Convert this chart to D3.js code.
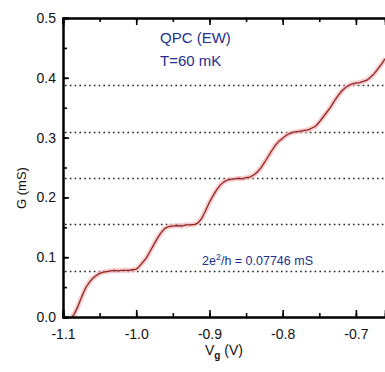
<!DOCTYPE html>
<html>
<head>
<meta charset="utf-8">
<script src="https://cdn.jsdelivr.net/npm/d3@7"></script>
<style>
  body { margin: 0; background: #fff; }
  svg { display: block; }
</style>
</head>
<body>
<div id="chart"></div>
<script>
// gate voltage (V) and conductance (mS)
const vg = [-1.088, -1.085, -1.081, -1.077, -1.073, -1.069, -1.064, -1.06, -1.055, -1.05,
  -1.045, -1.04, -1.035, -1.03, -1.025, -1.02, -1.015, -1.01, -1.005, -1.0,
  -0.997, -0.992, -0.986, -0.981, -0.976, -0.971, -0.966, -0.961, -0.956, -0.95,
  -0.944, -0.938, -0.932, -0.926, -0.92, -0.916, -0.911, -0.906, -0.9, -0.895,
  -0.89, -0.885, -0.88, -0.876, -0.871, -0.865, -0.86, -0.855, -0.85, -0.845,
  -0.84, -0.835, -0.83, -0.825, -0.82, -0.815, -0.81, -0.805, -0.8, -0.795,
  -0.79, -0.785, -0.78, -0.775, -0.77, -0.765, -0.76, -0.755, -0.75, -0.745,
  -0.74, -0.735, -0.73, -0.725, -0.72, -0.715, -0.71, -0.705, -0.7, -0.695,
  -0.69, -0.685, -0.68, -0.675, -0.67, -0.665, -0.66];
const g = [0.0, 0.004, 0.014, 0.026, 0.038, 0.049, 0.058, 0.064, 0.069, 0.073,
  0.075, 0.076, 0.077, 0.078, 0.077, 0.078, 0.078, 0.078, 0.079, 0.080,
  0.083, 0.090, 0.099, 0.110, 0.121, 0.132, 0.141, 0.148, 0.151, 0.152,
  0.153, 0.152, 0.154, 0.154, 0.155, 0.157, 0.164, 0.176, 0.192, 0.203,
  0.213, 0.221, 0.226, 0.229, 0.230, 0.231, 0.232, 0.231, 0.233, 0.234,
  0.237, 0.242, 0.249, 0.258, 0.268, 0.278, 0.287, 0.294, 0.299, 0.304,
  0.307, 0.309, 0.310, 0.311, 0.312, 0.313, 0.316, 0.319, 0.326, 0.334,
  0.342, 0.350, 0.360, 0.369, 0.377, 0.383, 0.387, 0.390, 0.391, 0.392,
  0.394, 0.396, 0.401, 0.407, 0.415, 0.423, 0.432];

const quantum = 0.07746;
const plateaus = [1, 2, 3, 4, 5];
const xTicks = [-1.1, -1.0, -0.9, -0.8, -0.7];
const yTicks = [0.0, 0.1, 0.2, 0.3, 0.4, 0.5];

const width = 385;
const height = 372;
const plotLeft = 63, plotTop = 18, plotBottom = 317;

const svg = d3.select("#chart").append("svg")
  .attr("width", width)
  .attr("height", height);

const x = d3.scaleLinear().domain([-1.1, -0.66]).range([plotLeft, 385.2]);
const y = d3.scaleLinear().domain([0, 0.5]).range([plotBottom, plotTop]);

const textCol = "#23308c";
// plain hyphen for the minus, as in the original plot
const fmt = (d) => d.toFixed(1);

// dotted lines at multiples of 2e^2/h
svg.append("g").selectAll("line")
  .data(plateaus)
  .enter()
  .append("line")
  .attr("x1", plotLeft + 2)
  .attr("x2", width)
  .attr("y1", (d) => Math.round(y(d * quantum)) + 0.5)
  .attr("y2", (d) => Math.round(y(d * quantum)) + 0.5)
  .attr("stroke", "#222")
  .attr("stroke-width", 1.6)
  .attr("stroke-dasharray", "1.6,3.2");

const pts = vg.map((v, i) => [v, g[i]]);
const line = d3.line().x((d) => x(d[0])).y((d) => y(d[1]));

svg.append("path")
  .datum(pts)
  .attr("d", line)
  .attr("fill", "none")
  .attr("stroke", "#f3b8b8")
  .attr("stroke-opacity", 0.7)
  .attr("stroke-width", 5);

svg.append("path")
  .datum(pts)
  .attr("d", line)
  .attr("fill", "none")
  .attr("stroke", "#8e2424")
  .attr("stroke-width", 1.3);

// axes: bottom, top, left (frame is cut at the right edge)
const minorX = d3.range(-1.1, -0.66, 0.05);
const minorY = d3.range(0, 0.5, 0.05);

const xBottom = d3.axisBottom(x).tickValues(xTicks).tickSize(-7).tickPadding(12)
  .tickFormat(fmt);
const xBottomMinor = d3.axisBottom(x).tickValues(minorX).tickSize(-4).tickFormat("");
const xTop = d3.axisTop(x).tickValues(xTicks).tickSize(-7).tickFormat("");
const xTopMinor = d3.axisTop(x).tickValues(minorX).tickSize(-4).tickFormat("");
const yLeft = d3.axisLeft(y).tickValues(yTicks).tickSize(-6).tickPadding(7)
  .tickFormat(fmt);
const yLeftMinor = d3.axisLeft(y).tickValues(minorY).tickSize(-4).tickFormat("");

function styleAxis(sel) {
  sel.select(".domain").attr("stroke", "#000").attr("stroke-width", 2);
  sel.selectAll(".tick line").attr("stroke", "#000").attr("stroke-width", 1.6);
  sel.selectAll(".tick text")
    .attr("fill", "#111")
    .style("font-family", "Liberation Sans, Arial")
    .style("font-size", "14px");
}

svg.append("g").attr("transform", `translate(0,${plotBottom})`).call(xBottomMinor).call(styleAxis);
svg.append("g").attr("transform", `translate(0,${plotBottom})`).call(xBottom).call(styleAxis);
svg.append("g").attr("transform", `translate(0,${plotTop})`).call(xTopMinor).call(styleAxis);
svg.append("g").attr("transform", `translate(0,${plotTop})`).call(xTop).call(styleAxis);
svg.append("g").attr("transform", `translate(${plotLeft},0)`).call(yLeftMinor).call(styleAxis);
svg.append("g").attr("transform", `translate(${plotLeft},0)`).call(yLeft).call(styleAxis);

// annotations
svg.append("text")
  .attr("x", 160).attr("y", 43)
  .attr("fill", textCol)
  .style("font-family", "Liberation Sans, Arial")
  .style("font-size", "15px")
  .text("QPC (EW)");

svg.append("text")
  .attr("x", 160).attr("y", 66)
  .attr("fill", textCol)
  .style("font-family", "Liberation Sans, Arial")
  .style("font-size", "15px")
  .text("T=60 mK");

const q = svg.append("text")
  .attr("x", 202).attr("y", 265)
  .attr("fill", textCol)
  .style("font-family", "Liberation Sans, Arial")
  .style("font-size", "12.5px");
q.append("tspan").text("2e");
q.append("tspan").attr("dy", -5).style("font-size", "9px").text("2");
q.append("tspan").attr("dy", 5).text("/h = 0.07746 mS");

// axis titles
const xl = svg.append("text")
  .attr("x", 205).attr("y", 355)
  .attr("fill", "#111")
  .style("font-family", "Liberation Sans, Arial")
  .style("font-size", "14px");
xl.append("tspan").text("V");
xl.append("tspan").attr("dy", 4).style("font-size", "10px").style("font-weight", "bold").text("g");
xl.append("tspan").attr("dy", -4).text(" (V)");

svg.append("text")
  .attr("transform", "translate(26,188) rotate(-90)")
  .attr("text-anchor", "middle")
  .attr("fill", "#111")
  .style("font-family", "Liberation Sans, Arial")
  .style("font-size", "13px")
  .text("G (mS)");
</script>
</body>
</html>
